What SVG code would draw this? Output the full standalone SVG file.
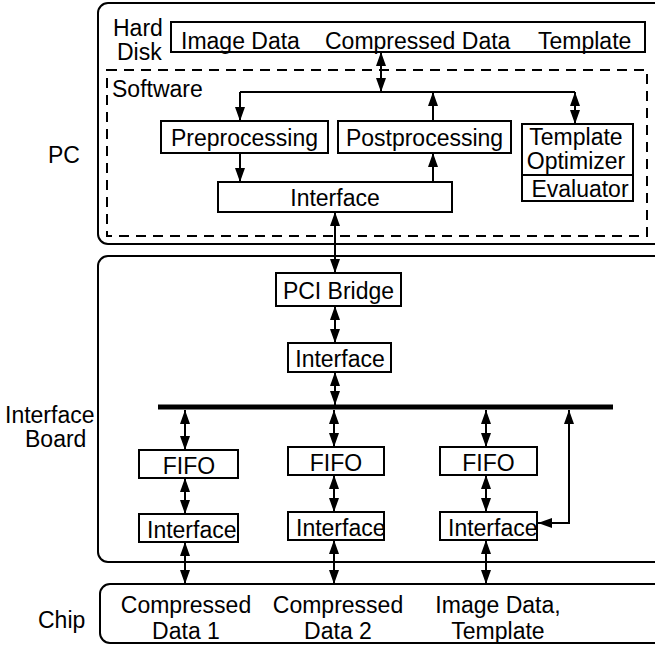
<svg xmlns="http://www.w3.org/2000/svg" width="655" height="647" viewBox="0 0 655 647">
<style>
text{font-family:"Liberation Sans",Arial,sans-serif;font-size:23px;fill:#000}
.b{fill:#fff;stroke:#000;stroke-width:2}
.g{fill:none;stroke:#000;stroke-width:2}
.d{fill:none;stroke:#000;stroke-width:2;stroke-dasharray:10 7}
.c{fill:none;stroke:#000;stroke-width:2}
.s{marker-end:url(#ah)}
.dd{marker-start:url(#ah);marker-end:url(#ah)}
.m{text-anchor:middle}
</style>
<defs>
<marker id="ah" viewBox="0 0 14 10" refX="14" refY="5" markerWidth="14" markerHeight="10" markerUnits="userSpaceOnUse" orient="auto-start-reverse">
<path d="M0,0 L14,5 L0,10 Z" fill="#000"/>
</marker>
</defs>
<rect width="655" height="647" fill="#fff"/>

<g id="side-labels">
<text x="48" y="163">PC</text>
<text x="5" y="423">Interface</text>
<text x="25" y="447">Board</text>
<text x="38" y="628">Chip</text>
</g>

<g id="pc">
<rect class="g" x="98" y="3" width="580" height="241" rx="10"/>
<text x="113" y="36">Hard</text>
<text x="117" y="60">Disk</text>
</g>
<g id="harddisk">
<rect class="b" x="171" y="22" width="474" height="30"/>
<text x="181" y="49">Image Data</text>
<text x="325" y="49">Compressed Data</text>
<text x="538" y="49">Template</text>
</g>
<g id="software">
<rect class="d" x="107" y="70" width="540" height="166"/>
<text x="112" y="97">Software</text>
</g>
<g id="preprocessing">
<rect class="b" x="161" y="121" width="167" height="32"/>
<text class="m" x="244.5" y="146">Preprocessing</text>
</g>
<g id="postprocessing">
<rect class="b" x="338" y="121" width="173" height="32"/>
<text class="m" x="424.5" y="146">Postprocessing</text>
</g>
<g id="template-optimizer">
<rect class="b" x="522" y="124" width="111" height="51"/>
<text class="m" x="576" y="145" font-size="21">Template</text>
<text class="m" x="576" y="169" font-size="21">Optimizer</text>
</g>
<g id="evaluator">
<rect class="b" x="522" y="175" width="111" height="26"/>
<text class="m" x="580" y="197" font-size="22">Evaluator</text>
</g>
<g id="sw-interface">
<rect class="b" x="218" y="182" width="234" height="30"/>
<text class="m" x="335" y="206">Interface</text>
</g>

<g id="board">
<rect class="g" x="98" y="256" width="580" height="306" rx="10"/>
</g>
<g id="pci-bridge">
<rect class="b" x="276" y="273" width="125" height="33"/>
<text class="m" x="338.5" y="299">PCI Bridge</text>
</g>
<g id="board-interface">
<rect class="b" x="288" y="343" width="103" height="29"/>
<text class="m" x="340" y="367">Interface</text>
</g>
<g id="bus">
<line x1="158" y1="407" x2="613" y2="407" stroke="#000" stroke-width="5"/>
</g>
<g id="fifo1">
<rect class="b" x="139" y="450" width="99" height="28"/>
<text class="m" x="189" y="474">FIFO</text>
</g>
<g id="fifo2">
<rect class="b" x="288" y="447" width="96" height="28"/>
<text class="m" x="336" y="471">FIFO</text>
</g>
<g id="fifo3">
<rect class="b" x="440" y="447" width="97" height="28"/>
<text class="m" x="488.5" y="471">FIFO</text>
</g>
<g id="interface1">
<rect class="b" x="139" y="514" width="99" height="28"/>
<text x="147" y="538">Interface</text>
</g>
<g id="interface2">
<rect class="b" x="288" y="512" width="96" height="28"/>
<text x="296" y="536">Interface</text>
</g>
<g id="interface3">
<rect class="b" x="440" y="512" width="97" height="28"/>
<text x="448" y="536">Interface</text>
</g>

<g id="chip">
<rect class="g" x="100" y="584" width="580" height="59" rx="10"/>
<text class="m" x="186" y="613">Compressed</text>
<text class="m" x="186" y="639">Data 1</text>
<text class="m" x="338" y="613">Compressed</text>
<text class="m" x="338" y="639">Data 2</text>
<text class="m" x="498" y="613">Image Data,</text>
<text class="m" x="498" y="639">Template</text>
</g>

<g id="connectors">
<path class="c dd" d="M381,52 L381,92"/>
<path class="c" d="M240,92 L575,92"/>
<path class="c s" d="M240,92 L240,121"/>
<path class="c s" d="M433,121 L433,92"/>
<path class="c dd" d="M575,92 L575,124"/>
<path class="c s" d="M240,153 L240,182"/>
<path class="c s" d="M433,182 L433,153"/>
<path class="c dd" d="M335,212 L335,273"/>
<path class="c dd" d="M335,306 L335,343"/>
<path class="c dd" d="M335,372 L335,405"/>
<path class="c dd" d="M185,410 L185,450"/>
<path class="c dd" d="M185,478 L185,514"/>
<path class="c dd" d="M185,542 L185,584"/>
<path class="c dd" d="M334,410 L334,447"/>
<path class="c dd" d="M334,475 L334,512"/>
<path class="c dd" d="M334,540 L334,584"/>
<path class="c dd" d="M486,410 L486,447"/>
<path class="c dd" d="M486,475 L486,512"/>
<path class="c dd" d="M486,540 L486,584"/>
<path class="c dd" d="M569,410 L569,523 L538,523"/>
</g>
</svg>
